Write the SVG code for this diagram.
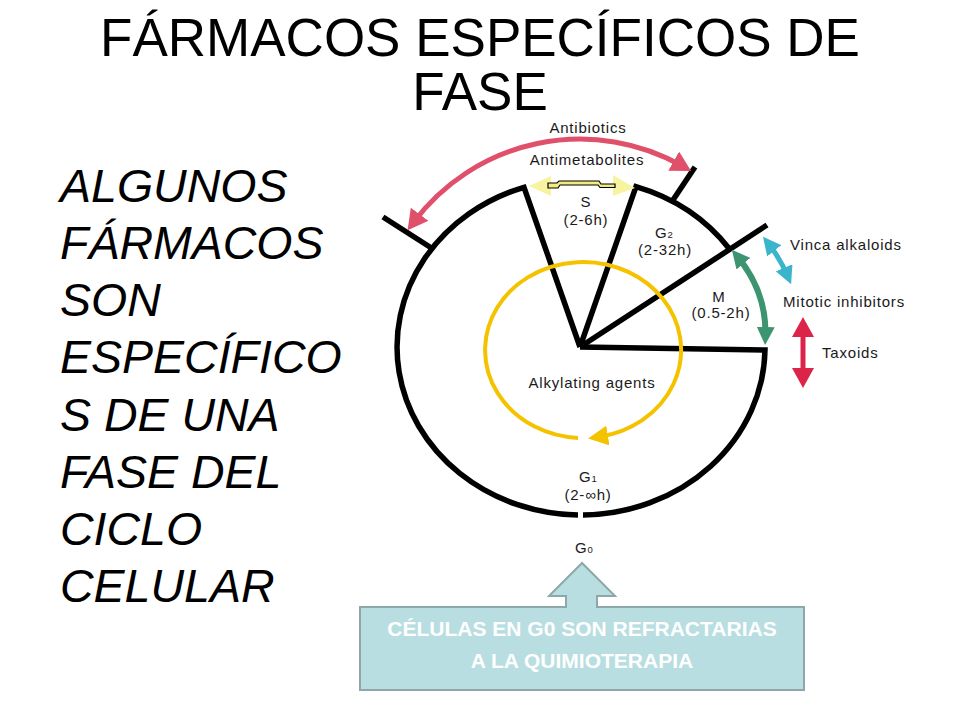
<svg xmlns="http://www.w3.org/2000/svg" width="960" height="720" viewBox="0 0 960 720">
<style>
.title{font-family:"Liberation Sans",Arial,sans-serif;font-size:53px;fill:#000;text-anchor:middle}
.side{font-family:"Liberation Sans",Arial,sans-serif;font-size:46.5px;font-style:italic;fill:#000}
.lbl{font-family:"Liberation Sans",Arial,sans-serif;font-size:15px;letter-spacing:0.8px;fill:#1a1a1a}
.mid{text-anchor:middle}
.sub{font-size:9.5px;letter-spacing:0}
.blk{fill:none;stroke:#000;stroke-width:5.5;stroke-linejoin:miter}
.call{font-family:"Liberation Sans",Arial,sans-serif;font-size:21px;font-weight:bold;fill:#fff;text-anchor:middle}
</style>
<defs>
<marker id="hRed" viewBox="0 0 20 22" markerWidth="20" markerHeight="22" refX="10" refY="11" orient="auto-start-reverse" markerUnits="userSpaceOnUse"><path d="M0,0 L20,11 L0,22 z" fill="#e0506a"/></marker>
<marker id="hGreen" viewBox="0 0 18 18" markerWidth="18" markerHeight="18" refX="10" refY="9" orient="auto-start-reverse" markerUnits="userSpaceOnUse"><path d="M0,0 L18,9 L0,18 z" fill="#3d9470"/></marker>
<marker id="hCyan" viewBox="0 0 18 18" markerWidth="18" markerHeight="18" refX="10" refY="9" orient="auto-start-reverse" markerUnits="userSpaceOnUse"><path d="M0,0 L18,9 L0,18 z" fill="#3ab5cb"/></marker>
<marker id="hCrim" viewBox="0 0 20 22" markerWidth="20" markerHeight="22" refX="12" refY="11" orient="auto-start-reverse" markerUnits="userSpaceOnUse"><path d="M0,0 L20,11 L0,22 z" fill="#dc2448"/></marker>
<marker id="hGold" viewBox="0 0 20 20" markerWidth="20" markerHeight="20" refX="8" refY="10" orient="auto" markerUnits="userSpaceOnUse"><path d="M0,0 L20,10 L0,20 z" fill="#f5c200"/></marker>
</defs>
<rect width="960" height="720" fill="#fff"/>

<g id="title">
<text class="title" x="480" y="56">FÁRMACOS ESPECÍFICOS DE</text>
<text class="title" x="480" y="110">FASE</text>
</g>

<g id="side-text">
<text class="side" x="60" y="202">ALGUNOS</text>
<text class="side" x="60" y="259">FÁRMACOS</text>
<text class="side" x="60" y="316">SON</text>
<text class="side" x="60" y="373">ESPECÍFICO</text>
<text class="side" x="60" y="431">S DE UNA</text>
<text class="side" x="60" y="488">FASE DEL</text>
<text class="side" x="60" y="545">CICLO</text>
<text class="side" x="60" y="602">CELULAR</text>
</g>

<g id="cycle">
<path class="blk" d="M580,347 L524,187.3 A184,168 0 0 0 578,515"/>
<path class="blk" d="M580,347 L636,186.7 A184,168 0 0 1 729.7,249.3"/>
<path class="blk" d="M580,347 L767,225"/>
<path class="blk" d="M580,347 L765,350 A184,168 0 0 1 583,515"/>
<path class="blk" d="M383,217 L433,249"/>
<path class="blk" d="M672,201.5 L695,167"/>
</g>

<g id="connectors">
<path d="M413.6,222.3 A208,208 0 0 1 682.4,166" fill="none" stroke="#e0506a" stroke-width="5" marker-start="url(#hRed)" marker-end="url(#hRed)"/>
<g id="antimetabolites-arrow">
<polygon points="529,186 551,176 551,196" fill="#f7f3a0"/>
<polygon points="635,188 613,175 613,196" fill="#f7f3a0"/>
<polygon points="548,183 557,183 559,181 599,181 601,184 615,184 615,187.5 600,187.5 598,185 560,185 558,188 548,188" fill="#f2ec80" stroke="#000" stroke-width="1.2"/>
</g>
<path d="M737,256 Q767,292 765.4,337" fill="none" stroke="#3d9470" stroke-width="6" marker-start="url(#hGreen)" marker-end="url(#hGreen)"/>
<path d="M768,243 Q780,258 788,277" fill="none" stroke="#3ab5cb" stroke-width="5" marker-start="url(#hCyan)" marker-end="url(#hCyan)"/>
<path d="M803,325 L803,380" fill="none" stroke="#dc2448" stroke-width="5" marker-start="url(#hCrim)" marker-end="url(#hCrim)"/>
<path d="M578,437.9 A98,88 0 1 1 600,436.7" fill="none" stroke="#f5c200" stroke-width="4" marker-end="url(#hGold)"/>
</g>

<g id="labels">
<text class="lbl mid" x="588" y="133">Antibiotics</text>
<text class="lbl mid" x="587" y="165">Antimetabolites</text>
<text class="lbl mid" x="586" y="207">S</text>
<text class="lbl mid" x="586" y="225">(2-6h)</text>
<text class="lbl mid" x="664" y="238">G<tspan class="sub">2</tspan></text>
<text class="lbl mid" x="665" y="255">(2-32h)</text>
<text class="lbl mid" x="719" y="302">M</text>
<text class="lbl mid" x="721" y="318">(0.5-2h)</text>
<text class="lbl" x="790" y="250">Vinca alkaloids</text>
<text class="lbl" x="783" y="307">Mitotic inhibitors</text>
<text class="lbl" x="822" y="358">Taxoids</text>
<text class="lbl mid" x="592" y="388">Alkylating agents</text>
<text class="lbl mid" x="588" y="482">G<tspan class="sub">1</tspan></text>
<text class="lbl mid" x="588" y="500">(2-∞h)</text>
<text class="lbl mid" x="584" y="553">G<tspan class="sub">0</tspan></text>
</g>

<g id="callout">
<path d="M360,607 L566,607 L566,596 L549,596 L582,563 L615,596 L597,596 L597,607 L804,607 L804,690 L360,690 Z" fill="#b8dee1" stroke="#8ea7aa" stroke-width="2"/>
<text class="call" x="582" y="636">CÉLULAS EN G0 SON REFRACTARIAS</text>
<text class="call" x="582" y="668">A LA QUIMIOTERAPIA</text>
</g>
</svg>
